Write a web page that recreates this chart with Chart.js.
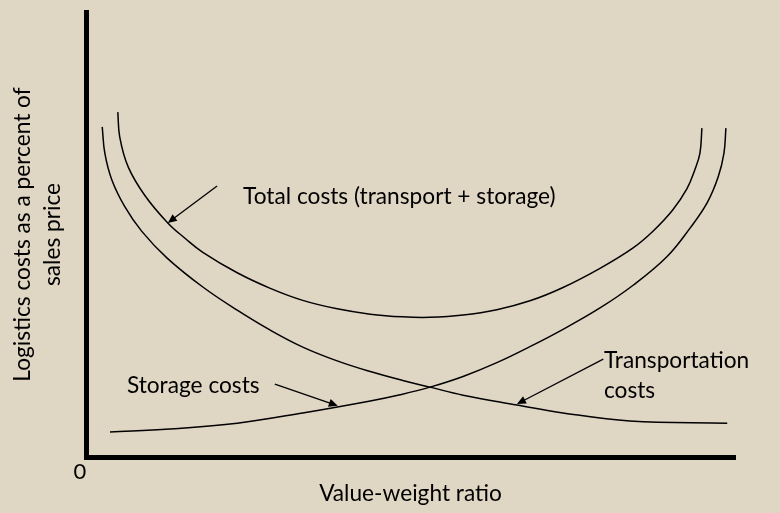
<!DOCTYPE html>
<html>
<head>
<meta charset="utf-8">
<script src="https://cdn.jsdelivr.net/npm/chart.js@4.4.1/dist/chart.umd.min.js"></script>
<style>
  html, body { margin: 0; padding: 0; background: #e0d6c4; }
  #wrap { width: 780px; height: 513px; }
</style>
</head>
<body>
<div id="wrap"><canvas id="costChart"></canvas></div>
<script>
// values (x = value-weight ratio, y = cost %), both on 0-100
var transportX = [2.5, 2.9, 4.0, 6.0, 8.6, 12.5, 18.0, 23.3, 28.4, 33.4, 38.7, 43.8, 48.8, 53.0, 58.1, 66.4, 73.5, 83.8, 98.8];
var transportY = [74.2, 68.3, 62.2, 56.2, 50.7, 44.7, 38.2, 33.0, 28.5, 24.7, 21.6, 19.2, 17.2, 15.7, 13.9, 11.7, 9.9, 8.1, 7.6];

var storageX = [3.7, 12.9, 23.3, 33.4, 43.8, 48.4, 53.0, 58.1, 63.3, 68.4, 73.5, 79.2, 84.3, 89.5, 93.1, 95.7, 97.4, 98.3, 98.6];
var storageY = [5.6, 6.3, 7.6, 9.9, 12.6, 14.0, 15.7, 18.1, 21.2, 24.8, 28.7, 33.5, 38.6, 45.0, 51.5, 57.1, 62.9, 68.3, 73.9];

var totalX = [4.9, 5.2, 6.5, 9.1, 12.6, 15.3, 18.0, 23.3, 28.4, 33.4, 38.7, 43.8, 48.8, 53.0, 58.1, 63.3, 68.4, 73.5, 79.2, 84.3, 87.4, 90.4, 92.6, 93.8, 94.6, 94.9];
var totalY = [77.5, 71.9, 65.2, 58.7, 52.6, 49.1, 46.0, 41.4, 37.9, 35.2, 33.3, 32.1, 31.5, 31.4, 31.9, 33.1, 35.1, 38.1, 42.4, 47.0, 50.8, 55.5, 60.3, 64.5, 68.3, 73.9];

// labels with arrows: text anchor [x, y], arrow from [x, y] to [x, y]
var labels = [
    { text: ['Total costs (transport + storage)'], at: [24.2, 58.4], from: [20.2, 60.9], to: [12.6, 52.6] },
    { text: ['Storage costs'], at: [6.3, 16.0], from: [29.1, 16.4], to: [38.8, 11.5] },
    { text: ['Transportation', 'costs'], at: [79.8, 21.6], from: [79.7, 22.0], to: [66.4, 11.9] }
];

var xTitle = 'Value-weight ratio';
var yTitle = ['Logistics costs as a percent of', 'sales price'];

function toPoints(xs, ys) {
    return xs.map(function (x, i) { return { x: x, y: ys[i] }; });
}

var FONT = 'Lato';
var SIZE = 22.7;

var annotations = {
    id: 'annotations',
    afterDatasetsDraw: function (chart) {
        var ctx = chart.ctx;
        var xs = chart.scales.x, ys = chart.scales.y;
        ctx.save();
        ctx.fillStyle = '#000';
        ctx.strokeStyle = '#000';
        ctx.font = SIZE + 'px ' + FONT;
        ctx.textBaseline = 'middle';
        labels.forEach(function (l) {
            var tx = xs.getPixelForValue(l.at[0]);
            var ty = ys.getPixelForValue(l.at[1]);
            l.text.forEach(function (line, i) {
                ctx.fillText(line, tx, ty + i * 30);
            });
            var x1 = xs.getPixelForValue(l.from[0]), y1 = ys.getPixelForValue(l.from[1]);
            var x2 = xs.getPixelForValue(l.to[0]), y2 = ys.getPixelForValue(l.to[1]);
            var a = Math.atan2(y2 - y1, x2 - x1);
            ctx.lineWidth = 1.3;
            ctx.beginPath();
            ctx.moveTo(x1, y1);
            ctx.lineTo(x2 - 6 * Math.cos(a), y2 - 6 * Math.sin(a));
            ctx.stroke();
            ctx.beginPath();
            ctx.moveTo(x2, y2);
            ctx.lineTo(x2 - 9 * Math.cos(a) + 4 * Math.sin(a), y2 - 9 * Math.sin(a) - 4 * Math.cos(a));
            ctx.lineTo(x2 - 9 * Math.cos(a) - 4 * Math.sin(a), y2 - 9 * Math.sin(a) + 4 * Math.cos(a));
            ctx.closePath();
            ctx.fill();
        });
        ctx.restore();
    }
};

function curve(data) {
    return {
        data: data,
        showLine: true,
        borderColor: '#000',
        borderWidth: 1.5,
        pointRadius: 0,
        fill: false,
        tension: 0.4
    };
}

var ctx = document.getElementById('costChart').getContext('2d');
var myChart = new Chart(ctx, {
    type: 'scatter',
    plugins: [annotations],
    data: {
        datasets: [
            curve(toPoints(transportX, transportY)),
            curve(toPoints(storageX, storageY)),
            curve(toPoints(totalX, totalY))
        ]
    },
    options: {
        responsive: true,
        maintainAspectRatio: false,
        animation: false,
        layout: { padding: { top: 12, right: 45, left: 0, bottom: 0 } },
        plugins: { legend: { display: false }, tooltip: { enabled: false } },
        scales: {
            x: {
                type: 'linear', min: 0, max: 100,
                grid: { display: false, drawTicks: false },
                border: { display: true, color: '#000', width: 5 },
                ticks: {
                    color: '#000', font: { family: FONT, size: 22, lineHeight: 1.2 }, padding: 2,
                    stepSize: 100, labelOffset: -6,
                    callback: function (v) { return v === 0 ? '0' : ''; }
                },
                title: { display: true, text: xTitle, color: '#000', font: { family: FONT, size: SIZE, lineHeight: 1.2 }, padding: { top: 0, bottom: 6 } },
                afterFit: function (s) { s.height = 56; }
            },
            y: {
                type: 'linear', min: 0, max: 100,
                grid: { display: false },
                border: { display: true, color: '#000', width: 5 },
                ticks: { display: false },
                title: { display: true, text: yTitle, color: '#000', font: { family: FONT, size: SIZE, lineHeight: 1.3 }, padding: { top: 8, bottom: 0 } },
                afterFit: function (s) { s.width = 86; }
            }
        }
    }
});
</script>
</body>
</html>
